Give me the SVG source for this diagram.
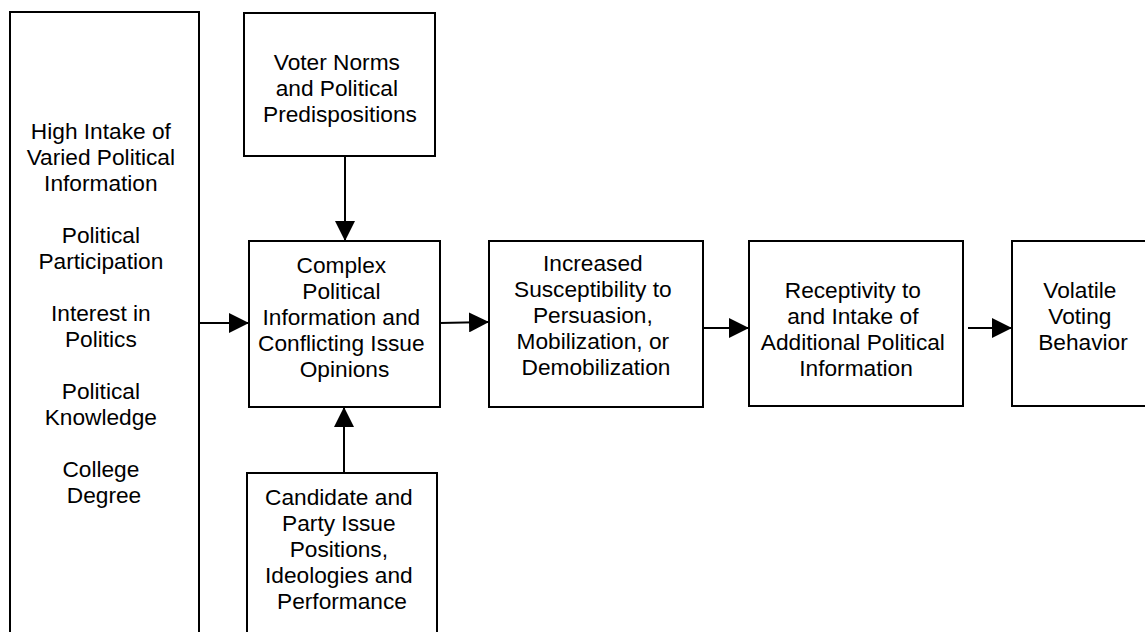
<svg xmlns="http://www.w3.org/2000/svg" width="1145" height="632" viewBox="0 0 1145 632">
<style>
.box{fill:#fff;stroke:#000;stroke-width:2}
.t{font-family:"Liberation Sans",Arial,sans-serif;font-size:22.7px;fill:#000;text-anchor:middle}
.c{stroke:#000;stroke-width:2;fill:none;marker-end:url(#ah)}
</style>
<defs>
<marker id="ah" markerUnits="userSpaceOnUse" markerWidth="20" markerHeight="20" refX="20" refY="10" orient="auto">
<path d="M0,0 L20,10 L0,20 z" fill="#000"/>
</marker>
</defs>
<rect x="0" y="0" width="1145" height="632" fill="#fff"/>
<g id="n-left">
<rect class="box" x="10" y="12" width="189" height="640"/>
<text class="t">
<tspan x="104" y="139">High Intake of</tspan>
<tspan x="104" y="165">Varied Political</tspan>
<tspan x="104" y="191">Information</tspan>
<tspan x="104" y="243">Political</tspan>
<tspan x="104" y="269">Participation</tspan>
<tspan x="104" y="321">Interest in</tspan>
<tspan x="104" y="347">Politics</tspan>
<tspan x="104" y="399">Political</tspan>
<tspan x="104" y="425">Knowledge</tspan>
<tspan x="104" y="477">College</tspan>
<tspan x="104" y="503">Degree</tspan>
</text>
</g>
<g id="n-voter">
<rect class="box" x="244" y="13" width="191" height="143"/>
<text class="t">
<tspan x="340" y="70">Voter Norms</tspan>
<tspan x="340" y="96">and Political</tspan>
<tspan x="340" y="122">Predispositions</tspan>
</text>
</g>
<g id="n-complex">
<rect class="box" x="249" y="241" width="191" height="166"/>
<text class="t">
<tspan x="344.5" y="273">Complex</tspan>
<tspan x="344.5" y="299">Political</tspan>
<tspan x="344.5" y="325">Information and</tspan>
<tspan x="344.5" y="351">Conflicting Issue</tspan>
<tspan x="344.5" y="377">Opinions</tspan>
</text>
</g>
<g id="n-candidate">
<rect class="box" x="247" y="473" width="190" height="180"/>
<text class="t">
<tspan x="342" y="505">Candidate and</tspan>
<tspan x="342" y="531">Party Issue</tspan>
<tspan x="342" y="557">Positions,</tspan>
<tspan x="342" y="583">Ideologies and</tspan>
<tspan x="342" y="609">Performance</tspan>
</text>
</g>
<g id="n-increased">
<rect class="box" x="489" y="241" width="214" height="166"/>
<text class="t">
<tspan x="596" y="271">Increased</tspan>
<tspan x="596" y="297">Susceptibility to</tspan>
<tspan x="596" y="323">Persuasion,</tspan>
<tspan x="596" y="349">Mobilization, or</tspan>
<tspan x="596" y="375">Demobilization</tspan>
</text>
</g>
<g id="n-receptivity">
<rect class="box" x="749" y="241" width="214" height="165"/>
<text class="t">
<tspan x="856" y="298">Receptivity to</tspan>
<tspan x="856" y="324">and Intake of</tspan>
<tspan x="856" y="350">Additional Political</tspan>
<tspan x="856" y="376">Information</tspan>
</text>
</g>
<g id="n-volatile">
<rect class="box" x="1012" y="241" width="150" height="165"/>
<text class="t">
<tspan x="1083" y="298">Volatile</tspan>
<tspan x="1083" y="324">Voting</tspan>
<tspan x="1083" y="350">Behavior</tspan>
</text>
</g>
<g id="connectors">
<path class="c" d="M345,156 L345,241"/>
<path class="c" d="M344,473 L344,407"/>
<path class="c" d="M199,323 L249,323"/>
<path class="c" d="M440,323 L489,322"/>
<path class="c" d="M703,328 L749,328"/>
<path class="c" d="M968,328 L1012,328"/>
</g>
</svg>
